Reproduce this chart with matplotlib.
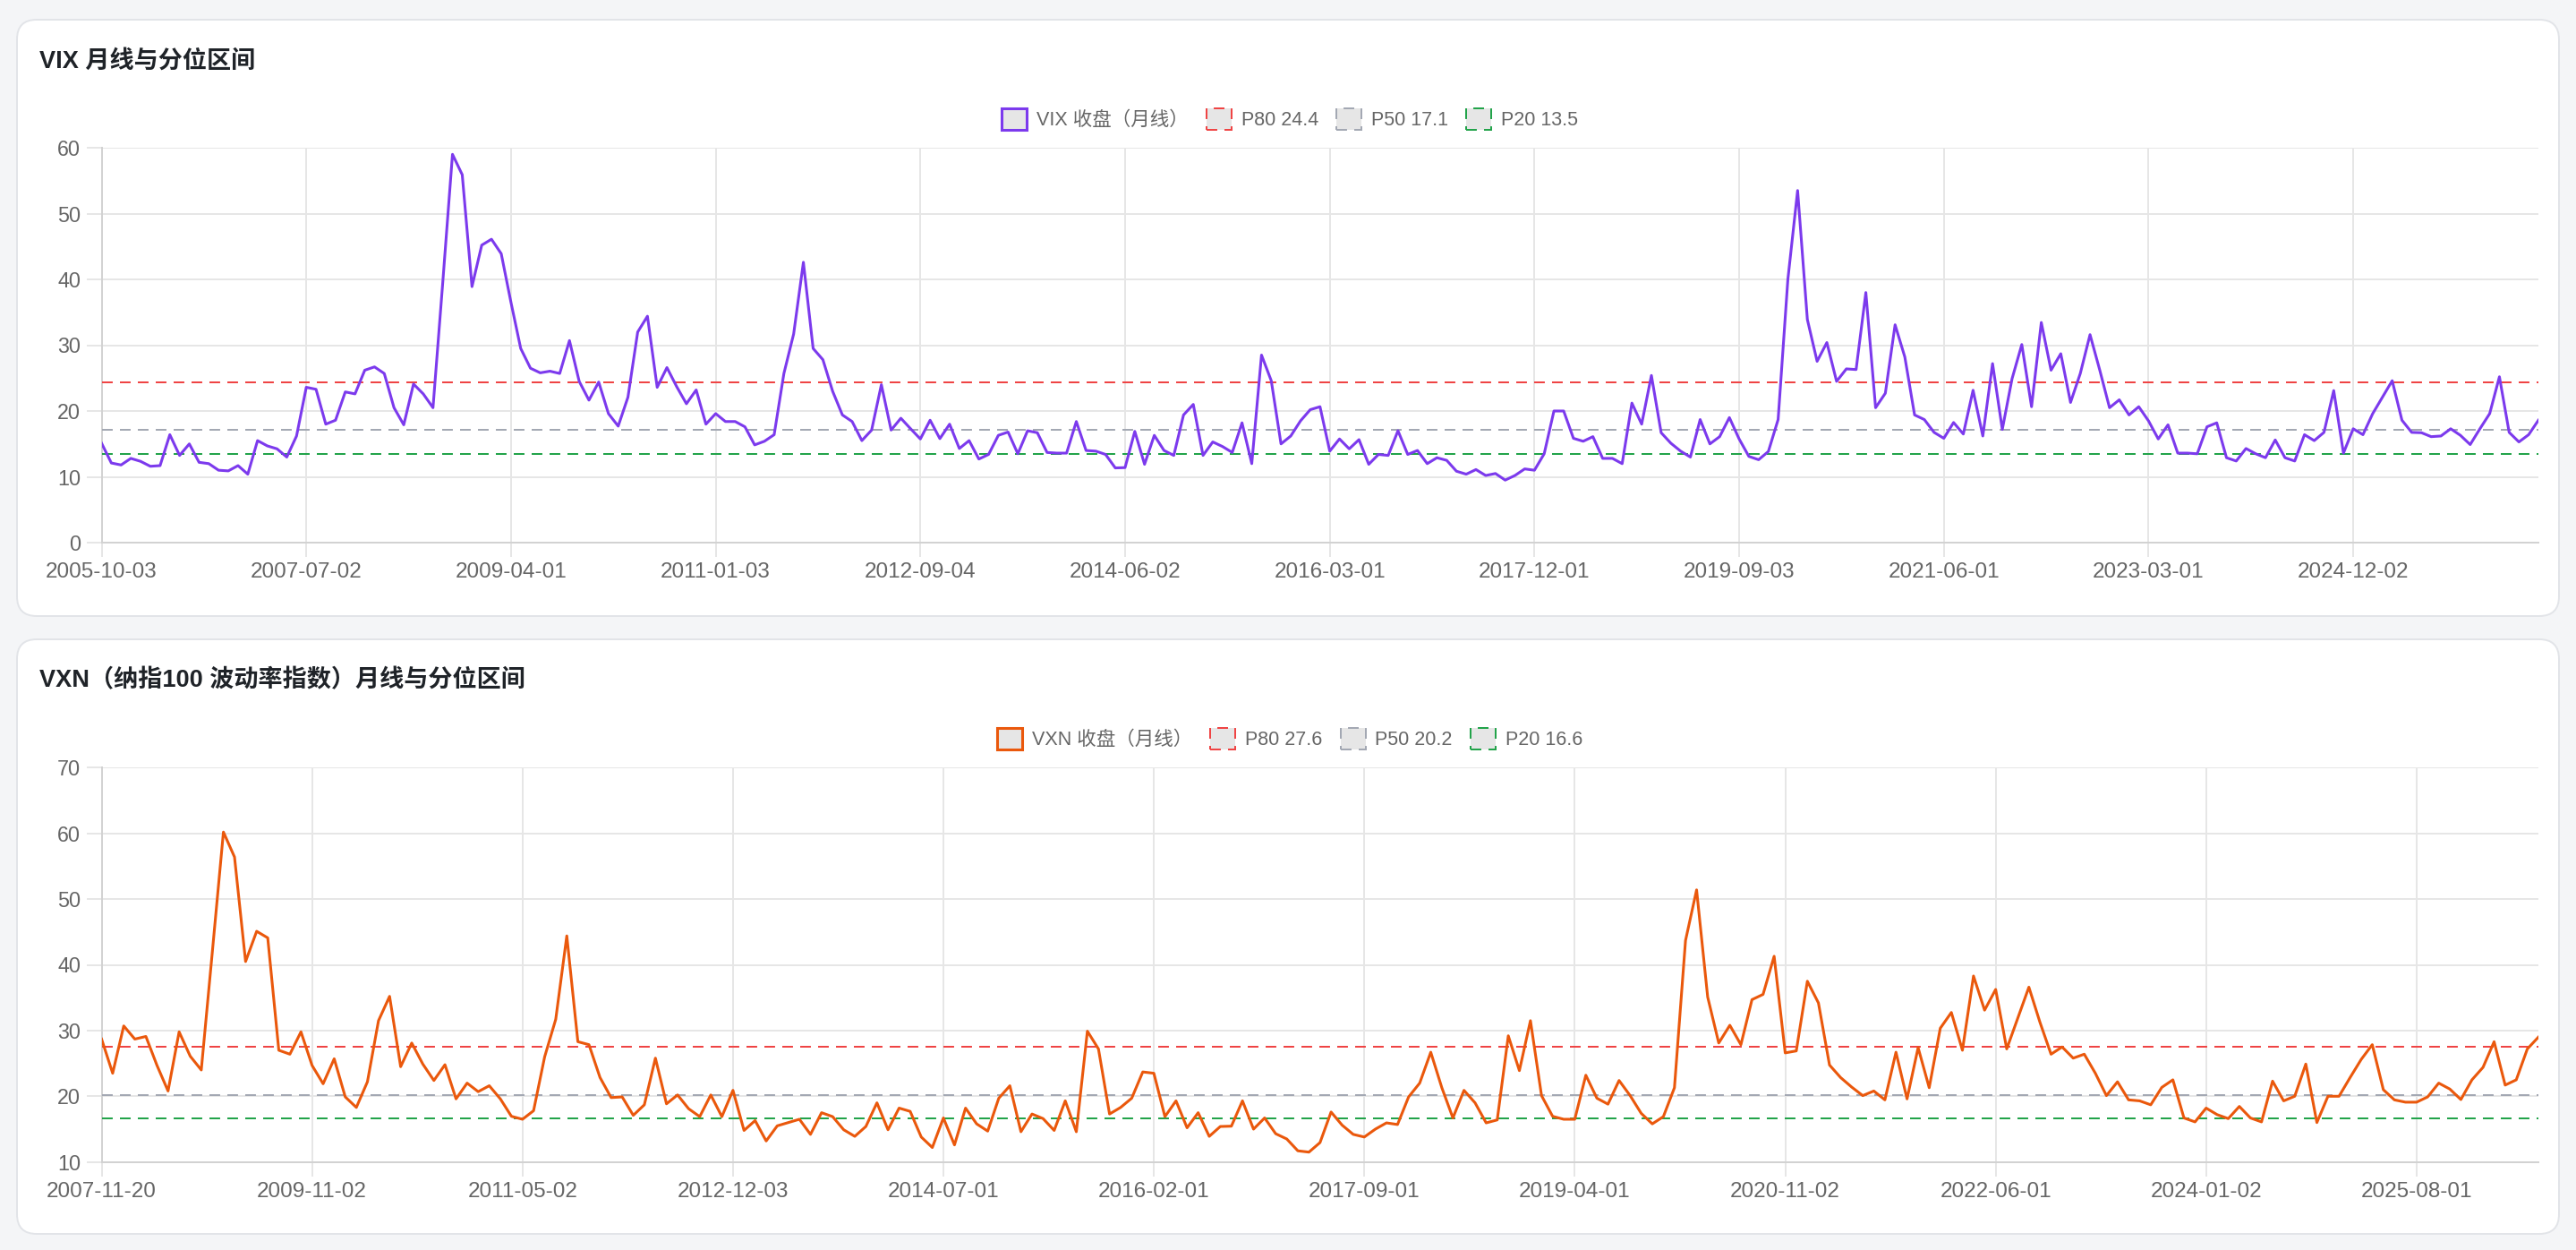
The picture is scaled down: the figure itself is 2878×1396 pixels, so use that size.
import numpy as np
import matplotlib
matplotlib.use('Agg')
import matplotlib.pyplot as plt
from matplotlib.patches import FancyBboxPatch, Patch
from matplotlib.transforms import IdentityTransform

# ---- data ----
vix_ticks = ['2005-10-03', '2007-07-02', '2009-04-01', '2011-01-03', '2012-09-04', '2014-06-02',
             '2016-03-01', '2017-12-01', '2019-09-03', '2021-06-01', '2023-03-01', '2024-12-02']
vix_tick_step = 21
vix = [
    15.1, 12.1, 11.8, 12.8, 12.35, 11.6, 11.7, 16.4, 13.25, 15.0,
    12.2, 12.0, 11.0, 10.9, 11.7, 10.4, 15.5, 14.7, 14.25, 13.0,
    16.2, 23.6, 23.3, 18.0, 18.6, 22.9, 22.6, 26.2, 26.7, 25.7,
    20.5, 17.9, 24.1, 22.6, 20.5, 39.5, 59.0, 55.9, 38.9, 45.2,
    46.1, 43.9, 36.5, 29.5, 26.5, 25.8, 26.05, 25.7, 30.7, 24.5,
    21.65, 24.4, 19.6, 17.7, 22.1, 32.0, 34.4, 23.6, 26.6, 23.7,
    21.1, 23.2, 18.0, 19.6, 18.4, 18.4, 17.6, 14.85, 15.4, 16.4,
    25.7, 31.7, 42.6, 29.5, 27.8, 23.0, 19.4, 18.4, 15.5, 17.1,
    24.0, 17.1, 18.9, 17.3, 15.75, 18.6, 15.8, 18.0, 14.3, 15.5,
    12.7, 13.4, 16.3, 16.8, 13.5, 17.0, 16.7, 13.7, 13.6, 13.6,
    18.4, 14.0, 13.9, 13.4, 11.35, 11.4, 16.9, 11.9, 16.3, 14.0,
    13.25, 19.4, 21.0, 13.25, 15.3, 14.6, 13.7, 18.2, 12.0, 28.5,
    24.6, 15.0, 16.2, 18.5, 20.2, 20.65, 13.9, 15.75, 14.25, 15.65,
    11.9, 13.4, 13.25, 17.0, 13.4, 14.0, 12.0, 12.9, 12.5, 10.85,
    10.4, 11.1, 10.2, 10.5, 9.5, 10.2, 11.2, 11.0, 13.5, 20.0,
    20.0, 15.85, 15.4, 16.1, 12.8, 12.8, 12.0, 21.2, 18.0, 25.4,
    16.7, 15.1, 13.9, 13.0, 18.7, 15.0, 16.1, 19.0, 15.75, 13.1,
    12.6, 13.85, 18.7, 40.0, 53.5, 33.9, 27.55, 30.4, 24.5, 26.4,
    26.3, 38.0, 20.5, 22.7, 33.1, 28.2, 19.4, 18.7, 16.75, 15.85,
    18.25, 16.5, 23.15, 16.2, 27.2, 17.2, 24.9, 30.1, 20.65, 33.45,
    26.2, 28.7, 21.3, 25.7, 31.6, 26.2, 20.5, 21.7, 19.4, 20.65,
    18.5, 15.75, 17.9, 13.6, 13.6, 13.5, 17.6, 18.2, 12.9, 12.4,
    14.3, 13.5, 12.9, 15.6, 12.9, 12.4, 16.4, 15.5, 16.75, 23.1,
    13.6, 17.3, 16.4, 19.6, 22.1, 24.6, 18.6, 16.75, 16.7, 16.1,
    16.2, 17.3, 16.3, 14.9, 17.3, 19.6, 25.2, 16.75, 15.3, 16.4,
    18.6,
]
vix_pct = [('P80', 24.4), ('P50', 17.1), ('P20', 13.5)]

vxn_ticks = ['2007-11-20', '2009-11-02', '2011-05-02', '2012-12-03', '2014-07-01', '2016-02-01',
             '2017-09-01', '2019-04-01', '2020-11-02', '2022-06-01', '2024-01-02', '2025-08-01']
vxn_tick_step = 19
vxn = [
    28.7, 23.5, 30.7, 28.7, 29.1, 24.7, 20.8, 29.8, 26.1, 24.0,
    42.0, 60.2, 56.4, 40.5, 45.1, 44.1, 27.0, 26.4, 29.8, 24.7,
    21.9, 25.7, 19.9, 18.3, 22.2, 31.5, 35.2, 24.5, 28.1, 24.9,
    22.4, 24.8, 19.6, 22.0, 20.7, 21.6, 19.6, 16.95, 16.5, 17.8,
    26.0, 31.7, 44.4, 28.3, 27.85, 22.85, 19.8, 19.9, 17.1, 18.7,
    25.8, 18.85, 20.2, 18.1, 16.9, 20.2, 16.9, 20.9, 14.8, 16.3,
    13.2, 15.5, 16.0, 16.5, 14.2, 17.5, 16.9, 14.9, 13.9, 15.4,
    19.0, 14.9, 18.2, 17.7, 13.8, 12.2, 16.7, 12.6, 18.2, 15.8,
    14.7, 19.7, 21.6, 14.6, 17.3, 16.6, 14.8, 19.3, 14.6, 29.9,
    27.2, 17.3, 18.3, 19.7, 23.7, 23.5, 16.9, 19.3, 15.2, 17.5,
    13.9, 15.4, 15.45, 19.3, 15.0, 16.7, 14.3, 13.5, 11.7, 11.5,
    12.95, 17.6, 15.6, 14.2, 13.8, 15.0, 15.95, 15.7, 19.9, 22.0,
    26.7, 21.3, 16.7, 20.9, 19.0, 15.95, 16.4, 29.2, 23.9, 31.5,
    20.1, 16.95, 16.5, 16.5, 23.2, 19.7, 18.8, 22.4, 20.1, 17.4,
    15.8, 16.9, 21.3, 43.7, 51.4, 35.1, 28.1, 30.8, 27.85, 34.7,
    35.5, 41.3, 26.6, 26.9, 37.5, 34.2, 24.75, 22.85, 21.4, 20.1,
    20.8, 19.45, 26.7, 19.6, 27.4, 21.3, 30.35, 32.75, 27.0, 38.3,
    33.1, 36.25, 27.2, 31.9, 36.6, 31.25, 26.4, 27.5, 25.8, 26.4,
    23.5, 20.1, 22.2, 19.45, 19.3, 18.7, 21.35, 22.5, 16.7, 16.1,
    18.2, 17.2, 16.6, 18.45, 16.7, 16.1, 22.3, 19.3, 20.0, 24.9,
    16.0, 20.0, 20.0, 22.85, 25.6, 27.85, 21.0, 19.45, 19.1, 19.1,
    19.9, 22.0, 21.1, 19.5, 22.5, 24.4, 28.3, 21.7, 22.5, 27.2,
    29.0,
]
vxn_pct = [('P80', 27.6), ('P50', 20.2), ('P20', 16.6)]

pct_colors = {'P80': '#ef4444', 'P50': '#a3a8b3', 'P20': '#22a34a'}

plt.rcParams['font.family'] = ['Liberation Sans', 'Noto Sans CJK SC']
plt.rcParams['lines.scale_dashes'] = False
plt.rcParams['patch.force_edgecolor'] = True

W, H = 2878, 1396
fig = plt.figure(figsize=(W / 100, H / 100), dpi=100, facecolor='#f4f5f7')

grid_c = '#e6e6e6'
text_c = '#666666'
dash = (8.6, 5.8)


def card(top, bottom):
    p = FancyBboxPatch((19, H - bottom), 2840, bottom - top,
                       boxstyle='round,pad=0,rounding_size=22',
                       transform=IdentityTransform(), facecolor='white',
                       edgecolor='#e2e4e8', linewidth=1.4, zorder=-5)
    fig.add_artist(p)


def panel(top, bottom, title, title_y, legend_y, name, values, color,
          ticks, step, pcts, ylim):
    ax = fig.add_axes([113.5 / W, 1 - bottom / H, (2836 - 113.5) / W, (bottom - top) / H])
    ax.set_facecolor('none')
    x = np.arange(len(values))
    ax.plot(x, values, color=color, lw=2.2, zorder=4)
    for lab, v in pcts:
        ax.axhline(v, color=pct_colors[lab], lw=1.44, dashes=dash, zorder=3)
    ax.set_xlim(0, len(values) - 1)
    ax.set_ylim(*ylim)
    ax.set_yticks(np.arange(ylim[0], ylim[1] + 1, 10))
    ax.set_xticks(np.arange(len(ticks)) * step)
    ax.set_xticklabels(ticks)
    ax.grid(True, color=grid_c, lw=1.44)
    ax.set_axisbelow(True)
    for s in ['top', 'right']:
        ax.spines[s].set_visible(False)
    for s in ['left', 'bottom']:
        ax.spines[s].set_color('#d2d2d2')
        ax.spines[s].set_linewidth(1.44)
    ax.tick_params(axis='x', length=11.5, width=1.44, color=grid_c, labelcolor=text_c,
                   labelsize=17.5, pad=4.5)
    ax.tick_params(axis='y', length=12.3, width=1.44, color=grid_c, labelcolor=text_c,
                   labelsize=16.8, pad=4.5)

    fig.text(44 / W, 1 - title_y / H, title, fontsize=19.5, fontweight='bold',
             color='#1f2328', ha='left', va='center')

    handles = [Patch(facecolor='#e6e6e6', edgecolor=color, linewidth=2.2, label=name)]
    for lab, v in pcts:
        handles.append(Patch(facecolor='#e6e6e6', edgecolor=pct_colors[lab], linewidth=1.44,
                             linestyle=(0, dash), label=f'{lab} {v}'))
    fig.legend(handles=handles, loc='center', bbox_to_anchor=(1441 / W, 1 - legend_y / H),
               ncol=4, frameon=False, fontsize=15.5, handlelength=1.3, handleheight=1.4,
               handletextpad=0.5, columnspacing=0.95, borderpad=0, borderaxespad=0,
               labelcolor=text_c)
    return ax


card(22, 688)
card(714, 1378)

panel(165, 606, 'VIX 月线与分位区间', 68.5, 133, 'VIX 收盘（月线）', vix, '#7c3aed',
      vix_ticks, vix_tick_step, vix_pct, (0, 60))
panel(857.3, 1297.7, 'VXN（纳指100 波动率指数）月线与分位区间', 760, 825,
      'VXN 收盘（月线）', vxn, '#ea580c', vxn_ticks, vxn_tick_step, vxn_pct, (10, 70))

fig.savefig('out.png', dpi=100, facecolor=fig.get_facecolor())
